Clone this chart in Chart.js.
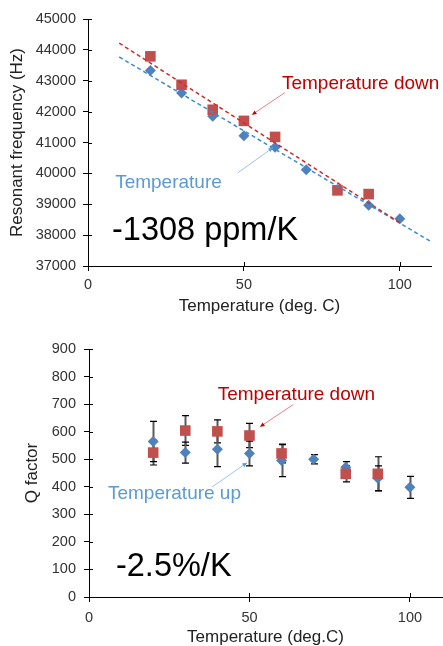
<!DOCTYPE html>
<html>
<head>
<meta charset="utf-8">
<script src="https://cdn.jsdelivr.net/npm/chart.js@4.4.0/dist/chart.umd.min.js"></script>
<style>
  body { margin: 0; background: #fff; }
  canvas { position: absolute; left: 0; }
</style>
</head>
<body>
<canvas id="freq-chart" width="443" height="322" style="top:0"></canvas>
<canvas id="q-chart" width="443" height="324" style="top:322px"></canvas>
<script>
const FONT = '"Liberation Sans", Arial, sans-serif';
const RED = '#C0504D';
const BLUE = '#4F81BD';

// temperatures (deg. C)
const tempsUp = [20, 30, 40, 50, 60, 70, 80, 90, 100];
const tempsDown = [20, 30, 40, 50, 60, 80, 90];

// resonant frequency (Hz)
const freqUp = [43330, 42600, 41850, 41220, 40850, 40120, 39480, 38970, 38530];
const freqDown = [43790, 42870, 42060, 41700, 41180, 39450, 39330];

// linear trend lines (end points)
const fitUpX = [10, 110];
const fitUpY = [43770, 37790];
const fitDownX = [10, 100];
const fitDownY = [44220, 38400];

// Q factor and error bars
const qUp = [564, 524, 536, 521, 495, 500, 471, 431, 398];
const qUpErr = [73, 38, 63, 45, 58, 17, 20, 45, 40];
const qDown = [524, 604, 601, 586, 521, 447, 447];
const qDownErr = [45, 54, 42, 44, 34, 29, 62];

const xTicks = [0, 50, 100];

function pts(xs, ys) {
    return xs.map((x, i) => ({ x: x, y: ys[i] }));
}

// tick marks that cross the axis line (inside part)
const innerTicks = {
    id: 'innerTicks',
    afterDraw(chart) {
        const ctx = chart.ctx;
        const x = chart.scales.x, y = chart.scales.y;
        ctx.save();
        ctx.strokeStyle = '#000';
        ctx.lineWidth = 1;
        ctx.beginPath();
        y.ticks.forEach(t => {
            const py = Math.round(y.getPixelForValue(t.value)) + 0.5;
            ctx.moveTo(x.left, py);
            ctx.lineTo(x.left + 4, py);
        });
        x.ticks.forEach(t => {
            const px = Math.round(x.getPixelForValue(t.value)) + 0.5;
            ctx.moveTo(px, y.bottom);
            ctx.lineTo(px, y.bottom - 4);
        });
        ctx.stroke();
        ctx.restore();
    }
};

// vertical error bars from dataset.errors
const errorBars = {
    id: 'errorBars',
    beforeDatasetsDraw(chart) {
        const ctx = chart.ctx;
        const ys = chart.scales.y;
        ctx.save();
        chart.data.datasets.forEach((ds, i) => {
            if (!ds.errors) return;
            const meta = chart.getDatasetMeta(i);
            meta.data.forEach((p, j) => {
                const v = ds.data[j].y, e = ds.errors[j];
                const top = ys.getPixelForValue(v + e);
                const bot = ys.getPixelForValue(v - e);
                const px = Math.round(p.x) + 0.5;
                ctx.strokeStyle = '#595959';
                ctx.lineWidth = 2;
                ctx.beginPath();
                ctx.moveTo(px, top);
                ctx.lineTo(px, bot);
                ctx.stroke();
                ctx.strokeStyle = '#000';
                ctx.lineWidth = 1.2;
                ctx.beginPath();
                ctx.moveTo(px - 3.5, top);
                ctx.lineTo(px + 3.5, top);
                ctx.moveTo(px - 3.5, bot);
                ctx.lineTo(px + 3.5, bot);
                ctx.stroke();
            });
        });
        ctx.restore();
    }
};

// text labels and arrows placed in data coordinates
const notes = {
    id: 'notes',
    afterDraw(chart, args, opts) {
        const ctx = chart.ctx;
        const x = chart.scales.x, y = chart.scales.y;
        ctx.save();
        (opts.items || []).forEach(n => {
            if (n.text) {
                ctx.font = n.size + 'px ' + FONT;
                ctx.fillStyle = n.color;
                ctx.textAlign = 'left';
                ctx.textBaseline = 'middle';
                ctx.fillText(n.text, x.getPixelForValue(n.x), y.getPixelForValue(n.y));
            } else {
                const x1 = x.getPixelForValue(n.from[0]), y1 = y.getPixelForValue(n.from[1]);
                const x2 = x.getPixelForValue(n.to[0]), y2 = y.getPixelForValue(n.to[1]);
                ctx.strokeStyle = n.color;
                ctx.lineWidth = 1;
                ctx.beginPath();
                ctx.moveTo(x1, y1);
                ctx.lineTo(x2, y2);
                ctx.stroke();
                const a = Math.atan2(y2 - y1, x2 - x1);
                ctx.fillStyle = n.head;
                ctx.beginPath();
                ctx.moveTo(x2, y2);
                ctx.lineTo(x2 - 5 * Math.cos(a - 0.45), y2 - 5 * Math.sin(a - 0.45));
                ctx.lineTo(x2 - 5 * Math.cos(a + 0.45), y2 - 5 * Math.sin(a + 0.45));
                ctx.closePath();
                ctx.fill();
            }
        });
        ctx.restore();
    }
};

function makeScales(yMin, yMax, yStep, yTitle, yTitlePad, yWidth, xHeight, yPad, xPad, xTitlePad) {
    const tickFont = { family: FONT, size: 14.5 };
    const titleFont = { family: FONT, size: 17, lineHeight: 1 };
    return {
        x: {
            type: 'linear', min: 0, max: 110,
            afterBuildTicks: s => { s.ticks = xTicks.map(v => ({ value: v })); },
            afterFit: s => { s.height = xHeight; },
            grid: { drawOnChartArea: false, drawTicks: true, tickLength: 5, color: '#000' },
            border: { display: true, color: '#000', width: 1 },
            ticks: { font: tickFont, color: '#333', padding: xPad, maxRotation: 0 },
            title: { display: true, text: 'Temperature (deg. C)', font: titleFont, color: '#222',
                     padding: { top: 0, bottom: xTitlePad } }
        },
        y: {
            type: 'linear', min: yMin, max: yMax,
            afterFit: s => { s.width = yWidth; },
            grid: { drawOnChartArea: false, drawTicks: true, tickLength: 5, color: '#000' },
            border: { display: true, color: '#000', width: 1 },
            ticks: { stepSize: yStep, font: tickFont, color: '#333', padding: yPad,
                     callback: v => String(v) },
            title: { display: true, text: yTitle, font: titleFont, color: '#222',
                     padding: { top: yTitlePad, bottom: 0 } }
        }
    };
}

const common = {
    responsive: false,
    animation: false,
    plugins: { legend: { display: false }, tooltip: { enabled: false } }
};

// resonant frequency chart
const freqScales = makeScales(37000, 45000, 1000, 'Resonant frequency (Hz)', 9, 88, 56, 7, 5, 7);
new Chart(document.getElementById('freq-chart'), {
    type: 'scatter',
    data: {
        datasets: [
            { label: 'fit down', data: pts(fitDownX, fitDownY), showLine: true, pointRadius: 0,
              borderColor: '#D42A2A', borderWidth: 1.5, borderDash: [4, 3], order: 0 },
            { label: 'fit up', data: pts(fitUpX, fitUpY), showLine: true, pointRadius: 0,
              borderColor: '#3A8BD6', borderWidth: 1.5, borderDash: [4, 3], order: 0 },
            { label: 'Temperature down', data: pts(tempsDown, freqDown), pointStyle: 'rect',
              pointRadius: 7.5, backgroundColor: RED, borderColor: RED, borderWidth: 0, order: 1 },
            { label: 'Temperature up', data: pts(tempsUp, freqUp), pointStyle: 'rectRot',
              pointRadius: 5.5, backgroundColor: BLUE, borderColor: BLUE, borderWidth: 0, order: 2 }
        ]
    },
    options: Object.assign({}, common, {
        layout: { autoPadding: false, padding: { top: 19, right: 12, left: 0, bottom: 0 } },
        scales: freqScales,
        plugins: Object.assign({}, common.plugins, {
            notes: { items: [
                { text: 'Temperature down', x: 62.2, y: 42905, color: '#C00000', size: 19 },
                { from: [63.1, 42613], to: [52.6, 41900], color: '#E88080', head: '#C00000' },
                { text: 'Temperature', x: 8.7, y: 39699, color: '#5B9BD5', size: 19 },
                { from: [48.1, 40023], to: [59.3, 40833], color: '#9DC3E6', head: '#5B9BD5' },
                { text: '-1308 ppm/K', x: 7.7, y: 38145, color: '#000', size: 32.5 }
            ] }
        })
    }),
    plugins: [innerTicks, notes]
});

// Q factor chart
const qScales = makeScales(0, 900, 100, 'Q factor', 24, 89, 49, 8, 7, 0);
qScales.x.title.text = 'Temperature (deg.C)';
new Chart(document.getElementById('q-chart'), {
    type: 'scatter',
    data: {
        datasets: [
            { label: 'Temperature down', data: pts(tempsDown, qDown), errors: qDownErr, pointStyle: 'rect',
              pointRadius: 7.5, backgroundColor: RED, borderColor: RED, borderWidth: 0, order: 1 },
            { label: 'Temperature up', data: pts(tempsUp, qUp), errors: qUpErr, pointStyle: 'rectRot',
              pointRadius: 5.5, backgroundColor: BLUE, borderColor: BLUE, borderWidth: 0, order: 2 }
        ]
    },
    options: Object.assign({}, common, {
        layout: { autoPadding: false, padding: { top: 27, right: 1, left: 0, bottom: 0 } },
        scales: qScales,
        plugins: Object.assign({}, common.plugins, {
            notes: { items: [
                { text: 'Temperature down', x: 40.1, y: 734, color: '#C00000', size: 19 },
                { from: [63.6, 698], to: [53.3, 618], color: '#E88080', head: '#C00000' },
                { text: 'Temperature up', x: 5.9, y: 374, color: '#5B9BD5', size: 19 },
                { from: [38.3, 399], to: [49.2, 487], color: '#9DC3E6', head: '#5B9BD5' },
                { text: '-2.5%/K', x: 8.4, y: 108, color: '#000', size: 32.5 }
            ] }
        })
    }),
    plugins: [errorBars, innerTicks, notes]
});
</script>
</body>
</html>
